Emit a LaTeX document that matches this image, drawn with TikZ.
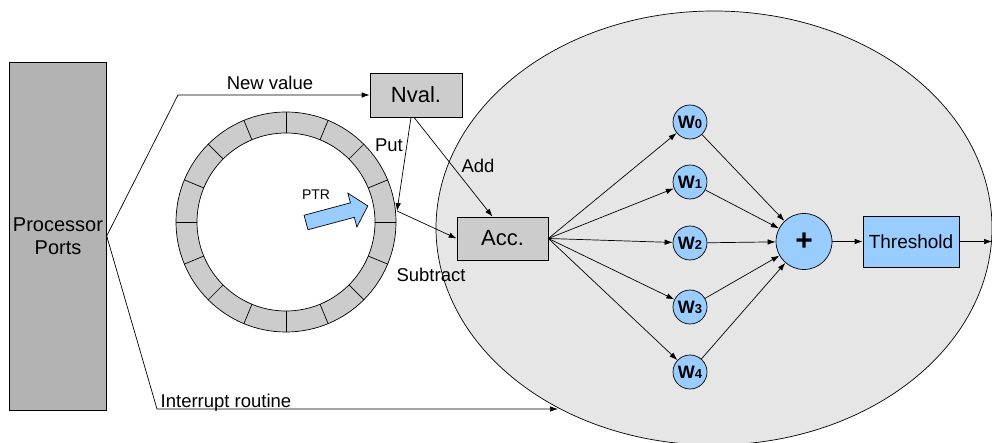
\documentclass[tikz,border=0pt]{standalone}
\usepackage{fontspec}
\setmainfont{Liberation Sans}
\usetikzlibrary{arrows.meta,shapes.geometric}
\definecolor{nodeblue}{HTML}{99CCFF}
\definecolor{boxgray}{HTML}{CCCCCC}
\definecolor{portgray}{HTML}{B3B3B3}
\definecolor{netgray}{HTML}{E6E6E6}

\begin{document}
\begin{tikzpicture}[x=1pt, y=-1pt, line width=0.7pt,
		>={Latex[length=8pt,width=5.5pt]},
		box/.style={draw, fill=boxgray, minimum width=92pt, minimum height=44pt, inner sep=0pt, font=\fontsize{22}{24}\selectfont},
		weight/.style={draw, circle, fill=nodeblue, minimum size=34pt, inner sep=0pt, font=\fontsize{18}{18}\selectfont\bfseries},
		lbl/.style={anchor=base, inner sep=0pt, font=\fontsize{18.5}{20}\selectfont}]
		\useasboundingbox (0,0) rectangle (992,443);
		\node [draw, ellipse, fill=netgray, minimum width=556pt, minimum height=434pt] (net) at (714,228) {};
		\node [draw, fill=portgray, minimum width=96pt, minimum height=348pt, align=center, font=\fontsize{20}{23}\selectfont] (proc) at (58,236) {Processor\\Ports};
		\node [box] (nval) at (416,95) {Nval.};
		\node [box, minimum width=91pt, minimum height=43pt] (acc) at (502.5,238.5) {Acc.};
		% ring buffer
		\coordinate (buf) at (286,222);
		\draw [fill=boxgray, even odd rule] (buf) circle (110pt) (buf) circle (89pt);
		\foreach \a in {0,22.5,...,337.5}
			\draw (buf) ++(\a:89pt) -- ++(\a:21pt);
		\begin{scope}[shift={(306,222.5)}, rotate=15]
			\draw [fill=nodeblue] (0,-7.5) -- (48,-7.5) -- (48,-17.5) -- (64,0) -- (48,17.5) -- (48,7.5) -- (0,7.5) -- cycle;
		\end{scope}
		\node [lbl, font=\fontsize{14}{14}\selectfont] (ptrlbl) at (316,200) {PTR};
		\coordinate (slot) at (397,211);
		% weights
		\foreach \i/\y in {0/122,1/182,2/243,3/307,4/372}
			\node [weight] (w\i) at (690,\y) {W{\fontsize{13}{13}\selectfont\i}};
		\node [weight, minimum size=56pt, font=\fontsize{30}{30}\selectfont\bfseries] (sum) at (804,241.5) {+};
		\node [draw, fill=nodeblue, minimum width=96pt, minimum height=51pt, inner sep=0pt, font=\fontsize{19}{20}\selectfont] (thr) at (911,241.5) {Threshold};
		\coordinate (out) at (992,241.5);
		% connectors
		\coordinate (bendup) at (178,95);
		\coordinate (benddown) at (157,409);
		\coordinate (irq) at (558,409);
		\draw [->] (proc.east) -- (bendup) -- (nval.west);
		\draw [->] (proc.east) -- (benddown) -- (irq);
		\draw [->] ([xshift=-5pt]nval.south) -- (slot);
		\draw [->] ([xshift=-2pt]nval.south) -- ([xshift=-10pt]acc.north);
		\draw [->] (slot) -- (acc.west);
		\foreach \i in {0,...,4} {
			\draw [->] (acc.east) -- (w\i);
			\draw [->] (w\i) -- (sum);
		}
		\draw [->] (sum) -- (thr);
		\draw [->] (thr) -- (out);
		\node [lbl] (newval) at (270,90) {New value};
		\node [lbl] (putlbl) at (389,152) {Put};
		\node [lbl] (addlbl) at (478,173) {Add};
		\node [lbl] (sublbl) at (431,282) {Subtract};
		\node [lbl] (irqlbl) at (226,407) {Interrupt routine};
		%\draw (net.west) -- (net.east);
	\end{tikzpicture}
\end{document}
